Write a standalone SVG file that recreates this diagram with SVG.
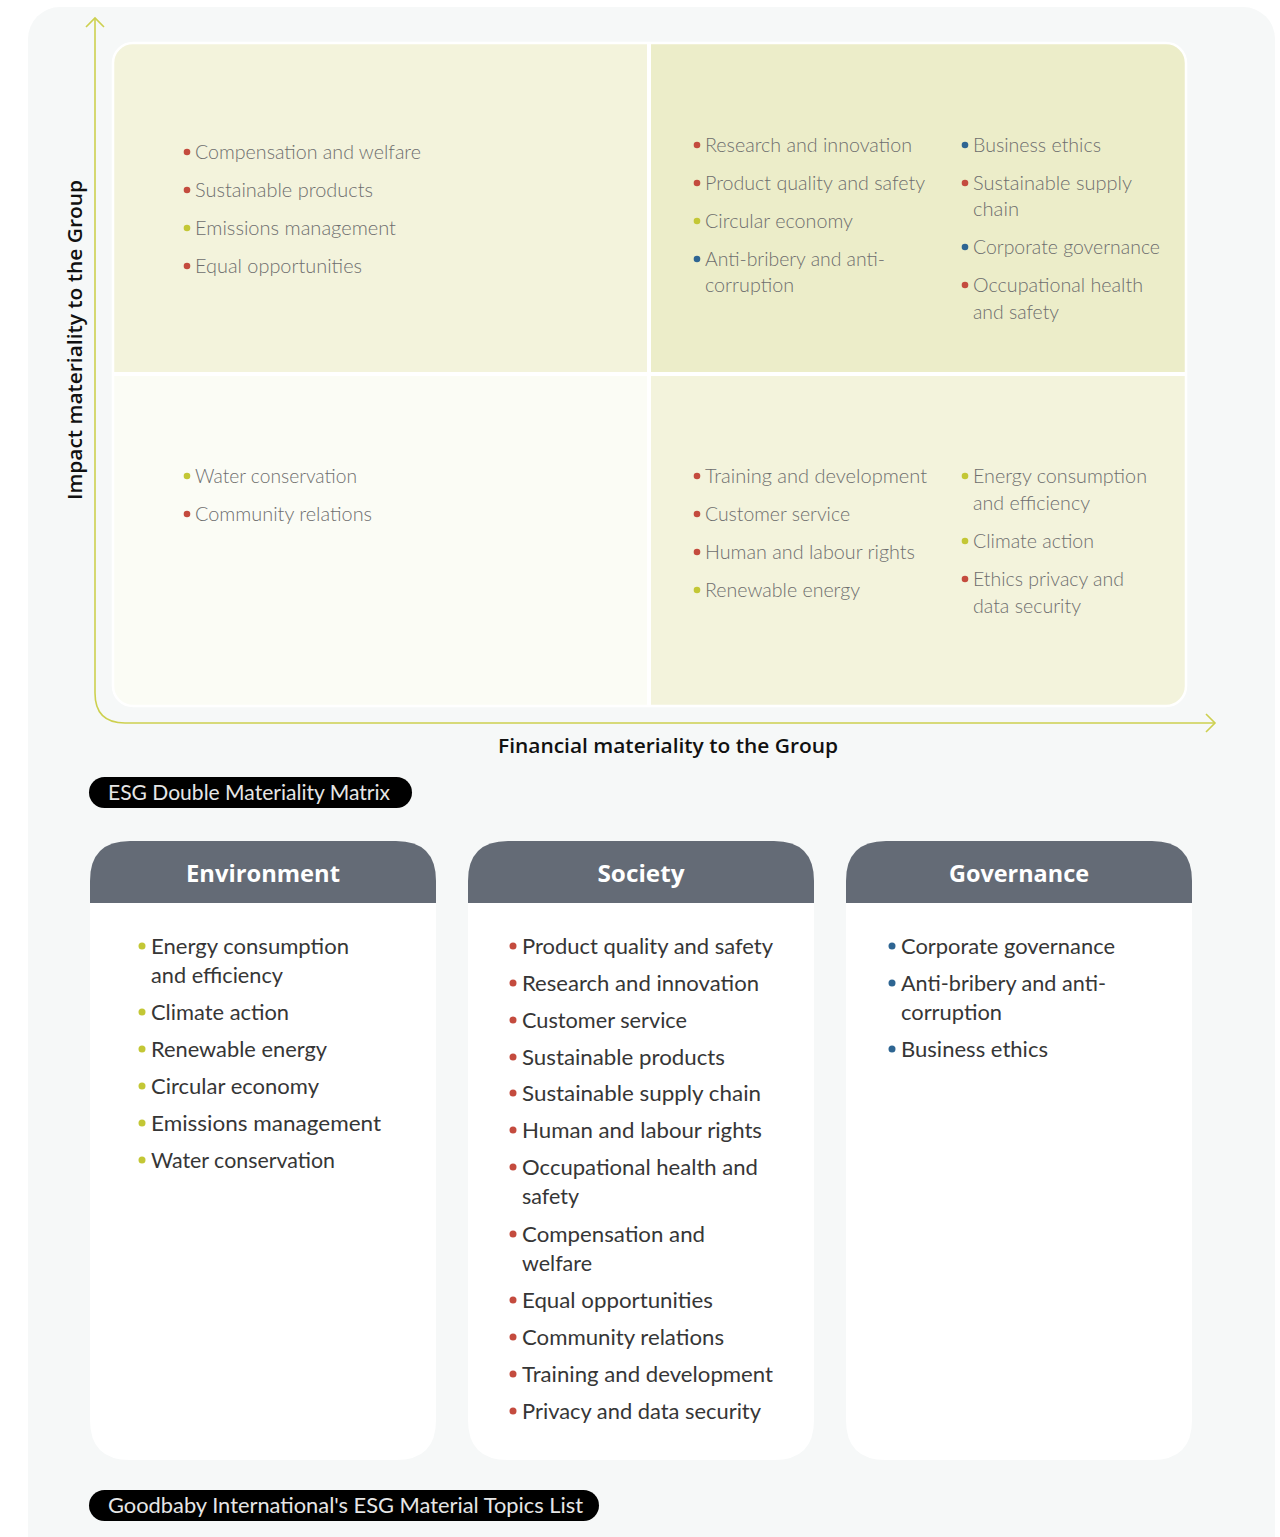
<svg xmlns="http://www.w3.org/2000/svg" width="1280" height="1537" viewBox="0 0 1280 1537">
  <defs>
    <style>
      .mx { font-family: Lato, "Liberation Sans", sans-serif; font-size: 19px; font-weight: 300; fill: #6e6e6e; }
      .it { font-family: Lato, "Liberation Sans", sans-serif; font-size: 22px; font-weight: 400; fill: #363636; }
      .hd { font-family: "Open Sans", "Liberation Sans", sans-serif; font-size: 24px; font-weight: 700; fill: #ffffff; }
      .ax { font-family: "Open Sans", "Liberation Sans", sans-serif; font-size: 20px; font-weight: 600; fill: #111111; }
      .pl { font-family: Lato, "Liberation Sans", sans-serif; font-size: 21px; font-weight: 400; fill: #e6e6e6; }
      .r { fill: #c44b3e; }
      .g { fill: #c3c735; }
      .b { fill: #2e6592; }
      .axis { fill: none; stroke: #cdd04f; stroke-width: 1.6; }
      .hdr { fill: #646b76; }
      .card { fill: #ffffff; }
    </style>
    <clipPath id="matrixClip">
      <rect x="113" y="43" width="1073" height="663" rx="20" ry="20"/>
    </clipPath>
  </defs>

  <!-- page panel -->
  <rect x="28" y="7" width="1247" height="1560" rx="32" ry="32" fill="#f6f8f8"/>

  <!-- quadrant grid -->
  <g id="matrix">
    <g clip-path="url(#matrixClip)">
      <rect x="113" y="43" width="537" height="332" fill="#f3f3dc"/>
      <rect x="650" y="43" width="536" height="332" fill="#ecedc9"/>
      <rect x="113" y="375" width="537" height="331" fill="#fbfcf5"/>
      <rect x="650" y="375" width="536" height="331" fill="#f3f3dc"/>
      <rect x="647" y="43" width="4" height="663" fill="#ffffff"/>
      <rect x="113" y="372" width="1073" height="4" fill="#ffffff"/>
    </g>
    <rect x="113" y="43" width="1073" height="663" rx="20" ry="20" fill="none" stroke="#ffffff" stroke-width="2.5"/>
  </g>

  <!-- axes -->
  <g id="axes">
    <path class="axis" d="M95 18 V693 Q95 723 125 723 H1215"/>
    <path class="axis" d="M86 27 L95 18 L104 27"/>
    <path class="axis" d="M1206 714 L1215 723 L1206 732"/>
    <text class="ax" transform="translate(82 340) rotate(-90)" text-anchor="middle" textLength="320" lengthAdjust="spacingAndGlyphs">Impact materiality to the Group</text>
    <text class="ax" x="668" y="753" text-anchor="middle" textLength="340" lengthAdjust="spacingAndGlyphs">Financial materiality to the Group</text>
  </g>

  <!-- quadrant: high impact, lower financial -->
  <g id="q-top-left">
    <circle class="r" cx="187" cy="152" r="3.3"/><text class="mx" x="195" y="159" textLength="226" lengthAdjust="spacingAndGlyphs">Compensation and welfare</text>
    <circle class="r" cx="187" cy="190" r="3.3"/><text class="mx" x="195" y="197" textLength="178" lengthAdjust="spacingAndGlyphs">Sustainable products</text>
    <circle class="g" cx="187" cy="228" r="3.3"/><text class="mx" x="195" y="235" textLength="201" lengthAdjust="spacingAndGlyphs">Emissions management</text>
    <circle class="r" cx="187" cy="266" r="3.3"/><text class="mx" x="195" y="273" textLength="167" lengthAdjust="spacingAndGlyphs">Equal opportunities</text>
  </g>

  <!-- quadrant: high impact, high financial -->
  <g id="q-top-right">
    <circle class="r" cx="697" cy="145" r="3.3"/><text class="mx" x="705" y="152" textLength="207" lengthAdjust="spacingAndGlyphs">Research and innovation</text>
    <circle class="r" cx="697" cy="183" r="3.3"/><text class="mx" x="705" y="190" textLength="220" lengthAdjust="spacingAndGlyphs">Product quality and safety</text>
    <circle class="g" cx="697" cy="221" r="3.3"/><text class="mx" x="705" y="228" textLength="148" lengthAdjust="spacingAndGlyphs">Circular economy</text>
    <circle class="b" cx="697" cy="259" r="3.3"/><text class="mx" x="705" y="266" textLength="180" lengthAdjust="spacingAndGlyphs">Anti-bribery and anti-</text>
    <text class="mx" x="705" y="292" textLength="89" lengthAdjust="spacingAndGlyphs">corruption</text>

    <circle class="b" cx="965" cy="145" r="3.3"/><text class="mx" x="973" y="152" textLength="128" lengthAdjust="spacingAndGlyphs">Business ethics</text>
    <circle class="r" cx="965" cy="183" r="3.3"/><text class="mx" x="973" y="190" textLength="159" lengthAdjust="spacingAndGlyphs">Sustainable supply</text>
    <text class="mx" x="973" y="216" textLength="46" lengthAdjust="spacingAndGlyphs">chain</text>
    <circle class="b" cx="965" cy="247" r="3.3"/><text class="mx" x="973" y="254" textLength="187" lengthAdjust="spacingAndGlyphs">Corporate governance</text>
    <circle class="r" cx="965" cy="285" r="3.3"/><text class="mx" x="973" y="292" textLength="170" lengthAdjust="spacingAndGlyphs">Occupational health</text>
    <text class="mx" x="973" y="319" textLength="86" lengthAdjust="spacingAndGlyphs">and safety</text>
  </g>

  <!-- quadrant: lower impact, lower financial -->
  <g id="q-bottom-left">
    <circle class="g" cx="187" cy="476" r="3.3"/><text class="mx" x="195" y="483" textLength="162" lengthAdjust="spacingAndGlyphs">Water conservation</text>
    <circle class="r" cx="187" cy="514" r="3.3"/><text class="mx" x="195" y="521" textLength="177" lengthAdjust="spacingAndGlyphs">Community relations</text>
  </g>

  <!-- quadrant: lower impact, high financial -->
  <g id="q-bottom-right">
    <circle class="r" cx="697" cy="476" r="3.3"/><text class="mx" x="705" y="483" textLength="222" lengthAdjust="spacingAndGlyphs">Training and development</text>
    <circle class="r" cx="697" cy="514" r="3.3"/><text class="mx" x="705" y="521" textLength="145" lengthAdjust="spacingAndGlyphs">Customer service</text>
    <circle class="r" cx="697" cy="552" r="3.3"/><text class="mx" x="705" y="559" textLength="210" lengthAdjust="spacingAndGlyphs">Human and labour rights</text>
    <circle class="g" cx="697" cy="590" r="3.3"/><text class="mx" x="705" y="597" textLength="155" lengthAdjust="spacingAndGlyphs">Renewable energy</text>

    <circle class="g" cx="965" cy="476" r="3.3"/><text class="mx" x="973" y="483" textLength="174" lengthAdjust="spacingAndGlyphs">Energy consumption</text>
    <text class="mx" x="973" y="510" textLength="117" lengthAdjust="spacingAndGlyphs">and efficiency</text>
    <circle class="g" cx="965" cy="541" r="3.3"/><text class="mx" x="973" y="548" textLength="121" lengthAdjust="spacingAndGlyphs">Climate action</text>
    <circle class="r" cx="965" cy="579" r="3.3"/><text class="mx" x="973" y="586" textLength="151" lengthAdjust="spacingAndGlyphs">Ethics privacy and</text>
    <text class="mx" x="973" y="613" textLength="108" lengthAdjust="spacingAndGlyphs">data security</text>
  </g>

  <!-- caption pill -->
  <g id="caption-matrix">
    <rect x="89" y="777" width="323" height="31" rx="15.5" ry="15.5" fill="#000000"/>
    <text class="pl" x="108" y="800" textLength="282" lengthAdjust="spacingAndGlyphs">ESG Double Materiality Matrix</text>
  </g>

  <!-- Environment card -->
  <g id="card-environment">
    <path class="card" d="M90 903 H436 V1420 Q436 1460 396 1460 H130 Q90 1460 90 1420 Z"/>
    <path class="hdr" d="M90 903 V881 Q90 841 130 841 H396 Q436 841 436 881 V903 Z"/>
    <text class="hd" x="263" y="882" text-anchor="middle" textLength="154" lengthAdjust="spacingAndGlyphs">Environment</text>
    <circle class="g" cx="142" cy="946" r="3.5"/><text class="it" x="151" y="954" textLength="198" lengthAdjust="spacingAndGlyphs">Energy consumption</text>
    <text class="it" x="151" y="983" textLength="132" lengthAdjust="spacingAndGlyphs">and efficiency</text>
    <circle class="g" cx="142" cy="1012" r="3.5"/><text class="it" x="151" y="1020" textLength="138" lengthAdjust="spacingAndGlyphs">Climate action</text>
    <circle class="g" cx="142" cy="1049" r="3.5"/><text class="it" x="151" y="1057" textLength="176" lengthAdjust="spacingAndGlyphs">Renewable energy</text>
    <circle class="g" cx="142" cy="1086" r="3.5"/><text class="it" x="151" y="1094" textLength="168" lengthAdjust="spacingAndGlyphs">Circular economy</text>
    <circle class="g" cx="142" cy="1123" r="3.5"/><text class="it" x="151" y="1131" textLength="230" lengthAdjust="spacingAndGlyphs">Emissions management</text>
    <circle class="g" cx="142" cy="1160" r="3.5"/><text class="it" x="151" y="1168" textLength="184" lengthAdjust="spacingAndGlyphs">Water conservation</text>
  </g>

  <!-- Society card -->
  <g id="card-society">
    <path class="card" d="M468 903 H814 V1420 Q814 1460 774 1460 H508 Q468 1460 468 1420 Z"/>
    <path class="hdr" d="M468 903 V881 Q468 841 508 841 H774 Q814 841 814 881 V903 Z"/>
    <text class="hd" x="641" y="882" text-anchor="middle" textLength="87" lengthAdjust="spacingAndGlyphs">Society</text>
    <circle class="r" cx="513" cy="946" r="3.5"/><text class="it" x="522" y="954" textLength="251" lengthAdjust="spacingAndGlyphs">Product quality and safety</text>
    <circle class="r" cx="513" cy="983" r="3.5"/><text class="it" x="522" y="991" textLength="237" lengthAdjust="spacingAndGlyphs">Research and innovation</text>
    <circle class="r" cx="513" cy="1020" r="3.5"/><text class="it" x="522" y="1028" textLength="165" lengthAdjust="spacingAndGlyphs">Customer service</text>
    <circle class="r" cx="513" cy="1057" r="3.5"/><text class="it" x="522" y="1065" textLength="203" lengthAdjust="spacingAndGlyphs">Sustainable products</text>
    <circle class="r" cx="513" cy="1093" r="3.5"/><text class="it" x="522" y="1101" textLength="239" lengthAdjust="spacingAndGlyphs">Sustainable supply chain</text>
    <circle class="r" cx="513" cy="1130" r="3.5"/><text class="it" x="522" y="1138" textLength="240" lengthAdjust="spacingAndGlyphs">Human and labour rights</text>
    <circle class="r" cx="513" cy="1167" r="3.5"/><text class="it" x="522" y="1175" textLength="236" lengthAdjust="spacingAndGlyphs">Occupational health and</text>
    <text class="it" x="522" y="1204" textLength="57" lengthAdjust="spacingAndGlyphs">safety</text>
    <circle class="r" cx="513" cy="1234" r="3.5"/><text class="it" x="522" y="1242" textLength="183" lengthAdjust="spacingAndGlyphs">Compensation and</text>
    <text class="it" x="522" y="1271" textLength="70" lengthAdjust="spacingAndGlyphs">welfare</text>
    <circle class="r" cx="513" cy="1300" r="3.5"/><text class="it" x="522" y="1308" textLength="191" lengthAdjust="spacingAndGlyphs">Equal opportunities</text>
    <circle class="r" cx="513" cy="1337" r="3.5"/><text class="it" x="522" y="1345" textLength="202" lengthAdjust="spacingAndGlyphs">Community relations</text>
    <circle class="r" cx="513" cy="1374" r="3.5"/><text class="it" x="522" y="1382" textLength="251" lengthAdjust="spacingAndGlyphs">Training and development</text>
    <circle class="r" cx="513" cy="1411" r="3.5"/><text class="it" x="522" y="1419" textLength="239" lengthAdjust="spacingAndGlyphs">Privacy and data security</text>
  </g>

  <!-- Governance card -->
  <g id="card-governance">
    <path class="card" d="M846 903 H1192 V1420 Q1192 1460 1152 1460 H886 Q846 1460 846 1420 Z"/>
    <path class="hdr" d="M846 903 V881 Q846 841 886 841 H1152 Q1192 841 1192 881 V903 Z"/>
    <text class="hd" x="1019" y="882" text-anchor="middle" textLength="140" lengthAdjust="spacingAndGlyphs">Governance</text>
    <circle class="b" cx="892" cy="946" r="3.5"/><text class="it" x="901" y="954" textLength="214" lengthAdjust="spacingAndGlyphs">Corporate governance</text>
    <circle class="b" cx="892" cy="983" r="3.5"/><text class="it" x="901" y="991" textLength="205" lengthAdjust="spacingAndGlyphs">Anti-bribery and anti-</text>
    <text class="it" x="901" y="1020" textLength="101" lengthAdjust="spacingAndGlyphs">corruption</text>
    <circle class="b" cx="892" cy="1049" r="3.5"/><text class="it" x="901" y="1057" textLength="147" lengthAdjust="spacingAndGlyphs">Business ethics</text>
  </g>

  <!-- caption pill -->
  <g id="caption-topics">
    <rect x="89" y="1490" width="510" height="31" rx="15.5" ry="15.5" fill="#000000"/>
    <text class="pl" x="108" y="1513" textLength="475" lengthAdjust="spacingAndGlyphs">Goodbaby International's ESG Material Topics List</text>
  </g>
</svg>
